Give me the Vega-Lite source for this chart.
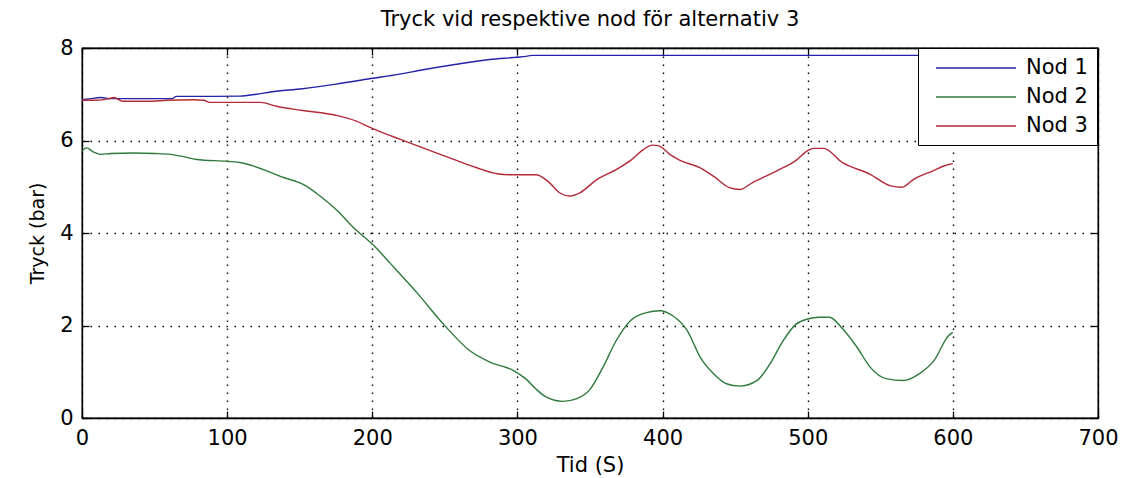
{
  "$schema": "https://vega.github.io/schema/vega-lite/v6.json",
  "autosize": {"type": "none"},
  "padding": {"left": 82, "top": 48, "right": 26, "bottom": 60},
  "width": 1016,
  "height": 370,
  "background": "white",
  "view": {"stroke": "black", "strokeWidth": 1.3},
  "config": {
    "font": "DejaVu Sans",
    "axis": {
      "domainColor": "black",
      "domainWidth": 1.3,
      "tickColor": "black",
      "tickWidth": 1.3,
      "labelColor": "black",
      "labelFont": "DejaVu Sans",
      "labelFontSize": 21,
      "titleColor": "black",
      "titleFont": "DejaVu Sans",
      "titleFontWeight": "normal",
      "gridColor": "black",
      "gridOpacity": 1,
      "gridWidth": 1.4,
      "gridDash": [1.5, 6.5]
    }
  },
  "title": {
    "text": "Tryck vid respektive nod för alternativ 3",
    "font": "DejaVu Sans",
    "fontSize": 21,
    "fontWeight": "normal",
    "color": "black",
    "anchor": "middle",
    "offset": 7
  },
  "data": {
    "values": [
      {"s": "Nod 1", "t": 0, "v": 6.88},
      {"s": "Nod 1", "t": 5, "v": 6.9},
      {"s": "Nod 1", "t": 13, "v": 6.93},
      {"s": "Nod 1", "t": 20, "v": 6.905},
      {"s": "Nod 1", "t": 40, "v": 6.905},
      {"s": "Nod 1", "t": 62, "v": 6.905},
      {"s": "Nod 1", "t": 65, "v": 6.955},
      {"s": "Nod 1", "t": 90, "v": 6.955},
      {"s": "Nod 1", "t": 109, "v": 6.96},
      {"s": "Nod 1", "t": 120, "v": 7.0},
      {"s": "Nod 1", "t": 130, "v": 7.05},
      {"s": "Nod 1", "t": 152, "v": 7.12},
      {"s": "Nod 1", "t": 175, "v": 7.22},
      {"s": "Nod 1", "t": 199, "v": 7.34},
      {"s": "Nod 1", "t": 218, "v": 7.43},
      {"s": "Nod 1", "t": 235, "v": 7.53},
      {"s": "Nod 1", "t": 258, "v": 7.65},
      {"s": "Nod 1", "t": 281, "v": 7.75},
      {"s": "Nod 1", "t": 300, "v": 7.8},
      {"s": "Nod 1", "t": 306, "v": 7.82},
      {"s": "Nod 1", "t": 310, "v": 7.84},
      {"s": "Nod 1", "t": 400, "v": 7.84},
      {"s": "Nod 1", "t": 500, "v": 7.84},
      {"s": "Nod 1", "t": 600, "v": 7.84},

      {"s": "Nod 2", "t": 0, "v": 5.77},
      {"s": "Nod 2", "t": 3, "v": 5.84},
      {"s": "Nod 2", "t": 8, "v": 5.75},
      {"s": "Nod 2", "t": 13, "v": 5.7},
      {"s": "Nod 2", "t": 20, "v": 5.72},
      {"s": "Nod 2", "t": 35, "v": 5.73},
      {"s": "Nod 2", "t": 50, "v": 5.72},
      {"s": "Nod 2", "t": 61, "v": 5.7},
      {"s": "Nod 2", "t": 70, "v": 5.65},
      {"s": "Nod 2", "t": 79, "v": 5.59},
      {"s": "Nod 2", "t": 100, "v": 5.55},
      {"s": "Nod 2", "t": 110, "v": 5.52},
      {"s": "Nod 2", "t": 118, "v": 5.45},
      {"s": "Nod 2", "t": 139, "v": 5.2},
      {"s": "Nod 2", "t": 153, "v": 5.04},
      {"s": "Nod 2", "t": 164, "v": 4.8},
      {"s": "Nod 2", "t": 176, "v": 4.48},
      {"s": "Nod 2", "t": 187, "v": 4.12},
      {"s": "Nod 2", "t": 200, "v": 3.76},
      {"s": "Nod 2", "t": 212, "v": 3.36},
      {"s": "Nod 2", "t": 218, "v": 3.15},
      {"s": "Nod 2", "t": 231, "v": 2.7},
      {"s": "Nod 2", "t": 249, "v": 2.03},
      {"s": "Nod 2", "t": 267, "v": 1.46},
      {"s": "Nod 2", "t": 281, "v": 1.21},
      {"s": "Nod 2", "t": 297, "v": 1.03},
      {"s": "Nod 2", "t": 306, "v": 0.84},
      {"s": "Nod 2", "t": 313, "v": 0.62},
      {"s": "Nod 2", "t": 320, "v": 0.45},
      {"s": "Nod 2", "t": 331, "v": 0.36},
      {"s": "Nod 2", "t": 341, "v": 0.42},
      {"s": "Nod 2", "t": 350, "v": 0.62},
      {"s": "Nod 2", "t": 359, "v": 1.1},
      {"s": "Nod 2", "t": 368, "v": 1.67},
      {"s": "Nod 2", "t": 378, "v": 2.11},
      {"s": "Nod 2", "t": 389, "v": 2.28},
      {"s": "Nod 2", "t": 398, "v": 2.32},
      {"s": "Nod 2", "t": 407, "v": 2.21},
      {"s": "Nod 2", "t": 417, "v": 1.89},
      {"s": "Nod 2", "t": 426, "v": 1.31},
      {"s": "Nod 2", "t": 435, "v": 0.96},
      {"s": "Nod 2", "t": 444, "v": 0.74},
      {"s": "Nod 2", "t": 453, "v": 0.69},
      {"s": "Nod 2", "t": 465, "v": 0.81},
      {"s": "Nod 2", "t": 474, "v": 1.17},
      {"s": "Nod 2", "t": 483, "v": 1.67},
      {"s": "Nod 2", "t": 492, "v": 2.03},
      {"s": "Nod 2", "t": 500, "v": 2.14},
      {"s": "Nod 2", "t": 508, "v": 2.18},
      {"s": "Nod 2", "t": 515, "v": 2.18},
      {"s": "Nod 2", "t": 524, "v": 1.93},
      {"s": "Nod 2", "t": 534, "v": 1.53},
      {"s": "Nod 2", "t": 543, "v": 1.1},
      {"s": "Nod 2", "t": 554, "v": 0.85},
      {"s": "Nod 2", "t": 566, "v": 0.81},
      {"s": "Nod 2", "t": 577, "v": 0.96},
      {"s": "Nod 2", "t": 587, "v": 1.24},
      {"s": "Nod 2", "t": 597, "v": 1.78},
      {"s": "Nod 2", "t": 600, "v": 1.85},

      {"s": "Nod 3", "t": 0, "v": 6.87},
      {"s": "Nod 3", "t": 10, "v": 6.87},
      {"s": "Nod 3", "t": 18, "v": 6.9},
      {"s": "Nod 3", "t": 22, "v": 6.93},
      {"s": "Nod 3", "t": 28, "v": 6.85},
      {"s": "Nod 3", "t": 48, "v": 6.85},
      {"s": "Nod 3", "t": 58, "v": 6.87},
      {"s": "Nod 3", "t": 77, "v": 6.88},
      {"s": "Nod 3", "t": 84, "v": 6.87},
      {"s": "Nod 3", "t": 88, "v": 6.825},
      {"s": "Nod 3", "t": 123, "v": 6.825},
      {"s": "Nod 3", "t": 134, "v": 6.74},
      {"s": "Nod 3", "t": 152, "v": 6.65},
      {"s": "Nod 3", "t": 175, "v": 6.545},
      {"s": "Nod 3", "t": 189, "v": 6.42},
      {"s": "Nod 3", "t": 198, "v": 6.29},
      {"s": "Nod 3", "t": 212, "v": 6.11},
      {"s": "Nod 3", "t": 218, "v": 6.04},
      {"s": "Nod 3", "t": 235, "v": 5.84},
      {"s": "Nod 3", "t": 258, "v": 5.57},
      {"s": "Nod 3", "t": 272, "v": 5.41},
      {"s": "Nod 3", "t": 286, "v": 5.28},
      {"s": "Nod 3", "t": 295, "v": 5.26},
      {"s": "Nod 3", "t": 313, "v": 5.26},
      {"s": "Nod 3", "t": 322, "v": 5.09},
      {"s": "Nod 3", "t": 329, "v": 4.87},
      {"s": "Nod 3", "t": 336, "v": 4.8},
      {"s": "Nod 3", "t": 343, "v": 4.87},
      {"s": "Nod 3", "t": 355, "v": 5.16},
      {"s": "Nod 3", "t": 368, "v": 5.37},
      {"s": "Nod 3", "t": 378, "v": 5.57},
      {"s": "Nod 3", "t": 387, "v": 5.81},
      {"s": "Nod 3", "t": 393, "v": 5.9},
      {"s": "Nod 3", "t": 397, "v": 5.89},
      {"s": "Nod 3", "t": 405, "v": 5.7},
      {"s": "Nod 3", "t": 412, "v": 5.57},
      {"s": "Nod 3", "t": 426, "v": 5.41},
      {"s": "Nod 3", "t": 435, "v": 5.23},
      {"s": "Nod 3", "t": 446, "v": 4.98},
      {"s": "Nod 3", "t": 453, "v": 4.94},
      {"s": "Nod 3", "t": 462, "v": 5.09},
      {"s": "Nod 3", "t": 479, "v": 5.35},
      {"s": "Nod 3", "t": 492, "v": 5.57},
      {"s": "Nod 3", "t": 500, "v": 5.78},
      {"s": "Nod 3", "t": 504, "v": 5.83},
      {"s": "Nod 3", "t": 511, "v": 5.83},
      {"s": "Nod 3", "t": 524, "v": 5.52},
      {"s": "Nod 3", "t": 543, "v": 5.27},
      {"s": "Nod 3", "t": 557, "v": 5.02},
      {"s": "Nod 3", "t": 565, "v": 4.99},
      {"s": "Nod 3", "t": 573, "v": 5.16},
      {"s": "Nod 3", "t": 586, "v": 5.34},
      {"s": "Nod 3", "t": 597, "v": 5.48},
      {"s": "Nod 3", "t": 600, "v": 5.5}
    ]
  },
  "layer": [
    {
      "mark": {"type": "line", "strokeWidth": 1.4, "interpolate": "monotone"},
      "encoding": {
        "x": {
          "field": "t",
          "type": "quantitative",
          "scale": {"domain": [0, 700], "nice": false, "zero": false},
          "axis": {
            "orient": "bottom",
            "values": [0, 100, 200, 300, 400, 500, 600, 700],
            "tickSize": -7,
            "labelPadding": 16,
            "title": "Tid (S)",
            "titleFontSize": 21,
            "titlePadding": 6,
            "grid": true,
            "labelFlush": false
          }
        },
        "y": {
          "field": "v",
          "type": "quantitative",
          "scale": {"domain": [0, 8], "nice": false, "zero": false},
          "axis": {
            "orient": "left",
            "values": [0, 2, 4, 6, 8],
            "tickSize": -7,
            "labelPadding": 16,
            "title": "Tryck (bar)",
            "titleFontSize": 19,
            "titlePadding": 12,
            "grid": true,
            "labelFlush": false
          }
        },
        "color": {
          "field": "s",
          "type": "nominal",
          "scale": {
            "domain": ["Nod 1", "Nod 2", "Nod 3"],
            "range": ["#2323a8", "#2e7a3c", "#b32a38"]
          },
          "legend": {
            "orient": "none",
            "legendX": 836,
            "legendY": 0,
            "title": null,
            "symbolType": "M-0.2,0H7.8",
            "symbolSize": 400,
            "symbolStrokeWidth": 1.4,
            "labelFont": "DejaVu Sans",
            "labelFontSize": 21,
            "labelColor": "black",
            "labelOffset": 77,
            "padding": 9,
            "rowPadding": 8,
            "strokeColor": "black",
            "fillColor": "white"
          }
        }
      }
    },
    {
      "mark": {"type": "line", "strokeOpacity": 0},
      "encoding": {
        "x": {
          "field": "t",
          "type": "quantitative",
          "scale": {"domain": [0, 700], "nice": false, "zero": false},
          "axis": {
            "orient": "top",
            "values": [0, 100, 200, 300, 400, 500, 600, 700],
            "tickSize": -7,
            "labels": false,
            "title": null,
            "grid": false
          }
        },
        "y": {
          "field": "v",
          "type": "quantitative",
          "scale": {"domain": [0, 8], "nice": false, "zero": false},
          "axis": {
            "orient": "right",
            "values": [0, 2, 4, 6, 8],
            "tickSize": -7,
            "labels": false,
            "title": null,
            "grid": false
          }
        },
        "detail": {"field": "s", "type": "nominal"}
      }
    }
  ],
  "resolve": {
    "scale": {"x": "independent", "y": "independent"},
    "axis": {"x": "independent", "y": "independent"}
  }
}
